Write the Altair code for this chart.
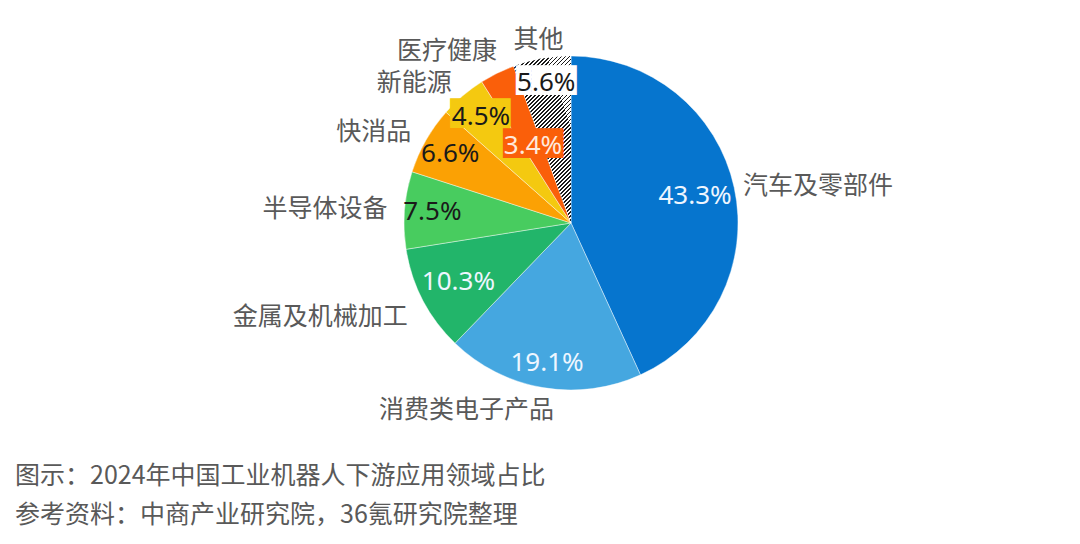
import altair as alt
import pandas as pd

categories = ["汽车及零部件", "消费类电子产品", "金属及机械加工", "半导体设备", "快消品", "新能源", "医疗健康", "其他"]
shares = [43.3, 19.1, 10.3, 7.5, 6.6, 4.5, 3.4, 5.6]
pct_labels = ["43.3%", "19.1%", "10.3%", "7.5%", "6.6%", "4.5%", "3.4%", "5.6%"]
colors = ["#0675CE", "#45A7E0", "#22B56A", "#48CC5F", "#FBA104", "#F4C910", "#FA5F0A", "#FFFFFF"]
caption_lines = ["图示：2024年中国工业机器人下游应用领域占比", "参考资料：中商产业研究院，36氪研究院整理"]

df = pd.DataFrame({"category": categories, "share": shares, "pct": pct_labels,
                   "idx": list(range(len(categories)))})

CJK = "Noto Sans CJK SC"
NUM = "Noto Sans"
GRAY = "#595959"
R = 167
FS_PCT = 26
FS_NAME = 25

# hatch pattern for the "其他" slice, as a striped linear gradient
stops = []
P = 56
for k in range(P):
    a, b, c = k / P, (k + 0.42) / P, (k + 1) / P
    stops += [{"offset": a, "color": "#1a1a1a"}, {"offset": b, "color": "#1a1a1a"},
              {"offset": b, "color": "#ffffff"}, {"offset": c, "color": "#ffffff"}]
hatch_fill = {"gradient": "linear", "x1": 0, "y1": 0, "x2": 0.417, "y2": 1.2, "stops": stops}

base = alt.Chart(df).encode(
    theta=alt.Theta("share:Q", stack=True),
    order=alt.Order("idx:Q"),
)

pie = base.mark_arc(radius=R, stroke="#ffffff", strokeWidth=0.6, strokeOpacity=0.7).encode(
    color=alt.Color("category:N", scale=alt.Scale(domain=categories, range=colors), legend=None)
)
hatch = base.mark_arc(radius=R, fill=hatch_fill).encode(
    opacity=alt.condition("datum.category == '其他'", alt.value(1), alt.value(0))
)


def label(field, cats, radius, **mark):
    names = "[" + ",".join("'" + c + "'" for c in cats) + "]"
    value = "datum." + field if field else "'████'"
    return base.transform_calculate(
        t="indexof(" + names + ", datum.category) >= 0 ? " + value + " : ''"
    ).mark_text(radius=radius, **mark).encode(text="t:N")


BOX = dict(font="DejaVu Sans Mono", fontSize=25, baseline="middle", dy=-2)
box_white = label(None, ["其他"], 142, fill="#ffffff", **BOX)
box_yellow = label(None, ["新能源"], 140, fill="#F4C910", **BOX)
box_orange = label(None, ["医疗健康"], 86, fill="#FA5F0A", **BOX)

pct_white = label("pct", ["汽车及零部件", "金属及机械加工"], 127, font=NUM, fontSize=FS_PCT, fill="#EEF6FF")
pct_white_b = label("pct", ["消费类电子产品"], 142, font=NUM, fontSize=FS_PCT, fill="#EEF6FF")
pct_white_in = label("pct", ["医疗健康"], 86, font=NUM, fontSize=FS_PCT, fill="#FFE9DC")
pct_black = label("pct", ["半导体设备", "快消品", "新能源"], 139, font=NUM, fontSize=FS_PCT, fill="#1a1a1a")
pct_black_top = label("pct", ["其他"], 142, font=NUM, fontSize=FS_PCT, fill="#1a1a1a")

name_right = label("category", ["汽车及零部件"], 176, font=CJK, fontSize=FS_NAME, fill=GRAY, align="left")
name_left = label("category", ["半导体设备", "快消品", "新能源"], 184,
                  font=CJK, fontSize=FS_NAME, fill=GRAY, align="right")
name_med = label("category", ["医疗健康"], 190, font=CJK, fontSize=FS_NAME, fill=GRAY,
                 align="right", dx=10, dy=-2)
name_metal = label("category", ["金属及机械加工"], 184, font=CJK, fontSize=FS_NAME, fill=GRAY,
                   align="right", dy=9)
name_consumer = label("category", ["消费类电子产品"], 184, font=CJK, fontSize=FS_NAME, fill=GRAY,
                      align="right", dx=14, dy=6)
name_top = label("category", ["其他"], 186, font=CJK, fontSize=FS_NAME, fill=GRAY, align="center")

cap1 = alt.Chart(pd.DataFrame({"line": [caption_lines[0]]})).mark_text(
    align="left", baseline="middle", font=CJK, fontSize=25, fill=GRAY
).encode(text="line:N", x=alt.value(-356), y=alt.value(453))
cap2 = alt.Chart(pd.DataFrame({"line": [caption_lines[1]]})).mark_text(
    align="left", baseline="middle", font=CJK, fontSize=25, fill=GRAY
).encode(text="line:N", x=alt.value(-356), y=alt.value(492))

chart = alt.layer(
    pie, hatch, box_white, box_yellow, box_orange,
    pct_white, pct_white_b, pct_white_in, pct_black, pct_black_top,
    name_right, name_left, name_med, name_metal, name_consumer, name_top,
    cap1, cap2,
).properties(
    width=400, height=400,
    padding={"left": 363, "top": 15, "right": 301, "bottom": 113},
    autosize="none",
    background="#ffffff",
).configure_view(stroke=None)

chart.save("out.html", embed_options={"renderer": "svg", "actions": False})
